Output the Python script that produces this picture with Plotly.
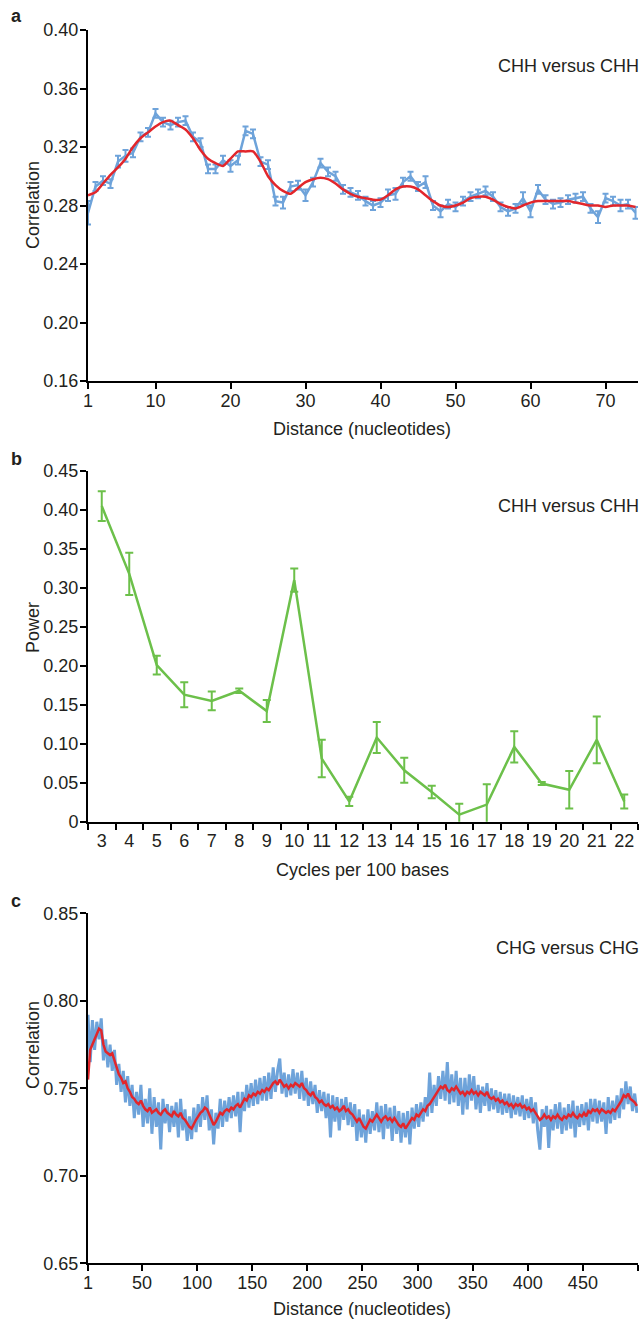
import plotly.graph_objects as go

# ---------------- Panel a data ----------------
a_dist = list(range(1, 75))
a_corr = [0.275, 0.293, 0.297, 0.295, 0.310, 0.314, 0.316, 0.327, 0.330, 0.343,
          0.337, 0.335, 0.337, 0.338, 0.327, 0.323, 0.305, 0.305, 0.311, 0.307,
          0.311, 0.331, 0.329, 0.310, 0.308, 0.283, 0.282, 0.293, 0.294, 0.287,
          0.296, 0.309, 0.303, 0.300, 0.291, 0.289, 0.287, 0.283, 0.280, 0.282,
          0.287, 0.288, 0.296, 0.300, 0.293, 0.296, 0.280, 0.276, 0.281, 0.279,
          0.283, 0.286, 0.288, 0.290, 0.286, 0.279, 0.276, 0.278, 0.285, 0.276,
          0.291, 0.284, 0.281, 0.282, 0.284, 0.285, 0.286, 0.278, 0.272, 0.285,
          0.283, 0.280, 0.281, 0.275]
a_err = [0.008, 0.003, 0.003, 0.003, 0.004, 0.004, 0.003, 0.003, 0.003, 0.003,
         0.003, 0.003, 0.003, 0.003, 0.003, 0.003, 0.003, 0.003, 0.003, 0.004,
         0.003, 0.003, 0.003, 0.003, 0.003, 0.003, 0.004, 0.003, 0.003, 0.004,
         0.003, 0.003, 0.003, 0.003, 0.003, 0.003, 0.003, 0.003, 0.003, 0.003,
         0.004, 0.004, 0.003, 0.003, 0.003, 0.004, 0.003, 0.004, 0.003, 0.003,
         0.003, 0.003, 0.003, 0.003, 0.003, 0.003, 0.003, 0.003, 0.004, 0.004,
         0.003, 0.003, 0.003, 0.003, 0.003, 0.003, 0.003, 0.003, 0.004, 0.003,
         0.003, 0.004, 0.003, 0.004]
a_smooth = [0.287, 0.289, 0.295, 0.301, 0.306, 0.312, 0.320, 0.326, 0.330, 0.334,
            0.337, 0.338, 0.335, 0.332, 0.326, 0.318, 0.312, 0.309, 0.307, 0.312,
            0.317, 0.317, 0.317, 0.310, 0.300, 0.294, 0.290, 0.288, 0.292, 0.296,
            0.298, 0.299, 0.298, 0.295, 0.291, 0.288, 0.286, 0.285, 0.284, 0.284,
            0.287, 0.291, 0.293, 0.293, 0.291, 0.287, 0.283, 0.280, 0.279, 0.280,
            0.282, 0.285, 0.286, 0.286, 0.284, 0.281, 0.279, 0.278, 0.280, 0.282,
            0.283, 0.283, 0.283, 0.283, 0.283, 0.282, 0.281, 0.280, 0.280, 0.279,
            0.280, 0.280, 0.280, 0.279]
a_xticks = [1, 10, 20, 30, 40, 50, 60, 70]
a_yticks = [0.16, 0.20, 0.24, 0.28, 0.32, 0.36, 0.40]

# ---------------- Panel b data ----------------
b_cycles = list(range(3, 23))
b_power = [0.405, 0.318, 0.201, 0.163, 0.155, 0.168, 0.142, 0.310, 0.081, 0.026,
           0.108, 0.066, 0.038, 0.009, 0.022, 0.096, 0.049, 0.041, 0.105, 0.026]
b_err = [0.019, 0.027, 0.012, 0.016, 0.012, 0.003, 0.014, 0.015, 0.024, 0.006,
         0.020, 0.016, 0.008, 0.014, 0.026, 0.020, 0.002, 0.024, 0.030, 0.009]
b_yticks = [0, 0.05, 0.10, 0.15, 0.20, 0.25, 0.30, 0.35, 0.40, 0.45]
b_yticktext = ["0", "0.05", "0.10", "0.15", "0.20", "0.25", "0.30", "0.35", "0.40", "0.45"]

# ---------------- Panel c data ----------------
c_dist = list(range(1, 500, 2))
c_corr = [
    0.792, 0.765, 0.789, 0.772, 0.788, 0.778, 0.790, 0.766, 0.778, 0.762,
    0.775, 0.760, 0.772, 0.752, 0.764, 0.748, 0.760, 0.742, 0.757, 0.740,
    0.752, 0.733, 0.748, 0.735, 0.752, 0.728, 0.744, 0.730, 0.750, 0.724,
    0.745, 0.728, 0.742, 0.715, 0.744, 0.730, 0.741, 0.725, 0.740, 0.728,
    0.742, 0.722, 0.744, 0.726, 0.738, 0.720, 0.734, 0.721, 0.739, 0.725,
    0.741, 0.728, 0.745, 0.732, 0.746, 0.726, 0.738, 0.718, 0.736, 0.727,
    0.744, 0.728, 0.743, 0.731, 0.745, 0.733, 0.746, 0.734, 0.748, 0.725,
    0.748, 0.737, 0.752, 0.739, 0.753, 0.740, 0.755, 0.741, 0.756, 0.743,
    0.757, 0.743, 0.759, 0.744, 0.762, 0.748, 0.760, 0.767, 0.747, 0.759,
    0.745, 0.758, 0.746, 0.761, 0.747, 0.759, 0.744, 0.760, 0.743, 0.756,
    0.740, 0.754, 0.741, 0.752, 0.736, 0.749, 0.737, 0.748, 0.733, 0.747,
    0.722, 0.746, 0.731, 0.745, 0.726, 0.744, 0.732, 0.745, 0.729, 0.742,
    0.728, 0.741, 0.720, 0.738, 0.722, 0.735, 0.719, 0.738, 0.724, 0.737,
    0.726, 0.742, 0.725, 0.740, 0.721, 0.741, 0.727, 0.739, 0.720, 0.740,
    0.724, 0.737, 0.719, 0.736, 0.722, 0.737, 0.718, 0.739, 0.727, 0.741,
    0.728, 0.742, 0.731, 0.745, 0.734, 0.759, 0.736, 0.752, 0.740, 0.757,
    0.744, 0.760, 0.743, 0.765, 0.741, 0.758, 0.742, 0.760, 0.740, 0.756,
    0.735, 0.756, 0.738, 0.758, 0.743, 0.757, 0.738, 0.752, 0.736, 0.751,
    0.740, 0.753, 0.737, 0.750, 0.738, 0.749, 0.736, 0.748, 0.735, 0.747,
    0.736, 0.747, 0.733, 0.746, 0.735, 0.745, 0.734, 0.746, 0.732, 0.744,
    0.733, 0.745, 0.730, 0.742, 0.726, 0.715, 0.738, 0.728, 0.740, 0.716,
    0.738, 0.726, 0.741, 0.727, 0.742, 0.724, 0.739, 0.726, 0.741, 0.727,
    0.743, 0.722, 0.740, 0.728, 0.741, 0.729, 0.742, 0.726, 0.744, 0.731,
    0.744, 0.730, 0.743, 0.731, 0.742, 0.724, 0.745, 0.730, 0.743, 0.732,
    0.746, 0.733, 0.750, 0.738, 0.754, 0.741, 0.751, 0.737, 0.747, 0.736,
]
c_smooth = [
    0.755, 0.772, 0.775, 0.778, 0.782, 0.784, 0.783, 0.775, 0.771, 0.770,
    0.769, 0.770, 0.766, 0.762, 0.758, 0.756, 0.753, 0.754, 0.750, 0.748,
    0.745, 0.744, 0.742, 0.741, 0.743, 0.740, 0.738, 0.737, 0.739, 0.736,
    0.737, 0.738, 0.736, 0.735, 0.737, 0.738, 0.736, 0.735, 0.734, 0.737,
    0.735, 0.734, 0.736, 0.733, 0.732, 0.730, 0.728, 0.727, 0.730, 0.732,
    0.734, 0.736, 0.737, 0.739, 0.738, 0.735, 0.731, 0.729, 0.731, 0.734,
    0.736, 0.735, 0.737, 0.738, 0.737, 0.739, 0.738, 0.740, 0.741, 0.739,
    0.742, 0.744, 0.743, 0.746, 0.745, 0.747, 0.746, 0.748, 0.747, 0.749,
    0.748, 0.750, 0.749, 0.751, 0.753, 0.754, 0.752, 0.755, 0.753, 0.751,
    0.752, 0.750, 0.752, 0.751, 0.753, 0.752, 0.751, 0.753, 0.750, 0.749,
    0.747, 0.746, 0.748, 0.745, 0.744, 0.742, 0.743, 0.741, 0.740, 0.741,
    0.739, 0.740, 0.738, 0.739, 0.737, 0.738, 0.740, 0.737, 0.738, 0.736,
    0.735, 0.733, 0.731, 0.733, 0.730, 0.728, 0.727, 0.730, 0.732, 0.731,
    0.733, 0.735, 0.733, 0.731, 0.733, 0.734, 0.732, 0.733, 0.731, 0.733,
    0.731, 0.729, 0.728, 0.730, 0.727, 0.729, 0.731, 0.733, 0.732, 0.735,
    0.734, 0.736, 0.738, 0.737, 0.740, 0.741, 0.743, 0.745, 0.747, 0.749,
    0.751, 0.750, 0.752, 0.749, 0.748, 0.750, 0.749, 0.751, 0.749, 0.747,
    0.748, 0.746, 0.748, 0.747, 0.749, 0.747, 0.748, 0.746, 0.748, 0.747,
    0.746, 0.748, 0.745, 0.744, 0.745, 0.743, 0.744, 0.742, 0.743, 0.741,
    0.742, 0.740, 0.741, 0.739, 0.741, 0.740, 0.741, 0.739, 0.740, 0.738,
    0.739, 0.737, 0.738, 0.736, 0.734, 0.732, 0.733, 0.735, 0.733, 0.734,
    0.732, 0.734, 0.733, 0.735, 0.733, 0.732, 0.734, 0.733, 0.735, 0.734,
    0.736, 0.734, 0.733, 0.735, 0.734, 0.736, 0.734, 0.737, 0.736, 0.738,
    0.737, 0.738, 0.736, 0.738, 0.737, 0.736, 0.737, 0.736, 0.738, 0.737,
    0.739, 0.741, 0.743, 0.746, 0.745, 0.747, 0.744, 0.743, 0.742, 0.740,
]
c_xticks = [1, 50, 100, 150, 200, 250, 300, 350, 400, 450, 500]
c_xticktext = ["1", "50", "100", "150", "200", "250", "300", "350", "400", "450", ""]
c_yticks = [0.65, 0.70, 0.75, 0.80, 0.85]

# ---------------- styling ----------------
W, H = 643, 1320
BLUE = "#6ea3da"
RED = "#e2262b"
GREEN = "#6cc04a"
FONT = "Liberation Sans, Arial, Helvetica, sans-serif"
TXT = "#231f20"


def px_x(x):
    return x / W


def px_y(y):
    return 1 - y / H


fig = go.Figure()

# Panel a
fig.add_trace(go.Scatter(
    x=a_dist, y=a_corr, mode="lines", xaxis="x", yaxis="y",
    line=dict(color=BLUE, width=2.5),
    error_y=dict(type="data", array=a_err, color=BLUE, thickness=2, width=3),
))
fig.add_trace(go.Scatter(
    x=a_dist, y=a_smooth, mode="lines", xaxis="x", yaxis="y",
    line=dict(color=RED, width=2.5, shape="spline", smoothing=0.6),
))

# Panel b
fig.add_trace(go.Scatter(
    x=b_cycles, y=b_power, mode="lines", xaxis="x2", yaxis="y2",
    line=dict(color=GREEN, width=2.5),
    error_y=dict(type="data", array=b_err, color=GREEN, thickness=2, width=4),
))

# Panel c
fig.add_trace(go.Scatter(
    x=c_dist, y=c_corr, mode="lines", xaxis="x3", yaxis="y3",
    line=dict(color=BLUE, width=3),
))
fig.add_trace(go.Scatter(
    x=c_dist, y=c_smooth, mode="lines", xaxis="x3", yaxis="y3",
    line=dict(color=RED, width=2.5),
))

axis_common = dict(
    showline=True, linewidth=2, linecolor="black",
    ticks="outside", ticklen=6, tickwidth=2, tickcolor="black",
    showgrid=False, zeroline=False, automargin=False,
    tickfont=dict(family=FONT, size=18, color=TXT),
)

xdom = [px_x(88), px_x(638)]

fig.update_layout(
    width=W, height=H, autosize=False,
    margin=dict(l=0, r=0, t=0, b=0, pad=0, autoexpand=False),
    paper_bgcolor="white", plot_bgcolor="white",
    showlegend=False,
    font=dict(family=FONT, size=18, color=TXT),
    xaxis=dict(domain=xdom, anchor="y", range=[1, 74.33],
               tickmode="array", tickvals=a_xticks, **axis_common),
    yaxis=dict(domain=[px_y(381), px_y(30)], anchor="x", range=[0.16, 0.40],
               tickmode="array", tickvals=a_yticks,
               ticktext=[f"{v:.2f}" for v in a_yticks], **axis_common),
    xaxis2=dict(domain=xdom, anchor="y2", range=[2.5, 22.5],
                tickmode="array", tickvals=b_cycles,
                ticktext=[str(c) for c in b_cycles],
                **{**axis_common, "tickcolor": "rgba(0,0,0,0)"},
                minor=dict(tickmode="linear", tick0=2.5, dtick=1, ticks="outside",
                           ticklen=6, tickwidth=2, tickcolor="black", showgrid=False)),
    yaxis2=dict(domain=[px_y(821.7), px_y(471)], anchor="x2", range=[0, 0.45],
                tickmode="array", tickvals=b_yticks, ticktext=b_yticktext,
                **axis_common),
    xaxis3=dict(domain=xdom, anchor="y3", range=[1, 500],
                tickmode="array", tickvals=c_xticks, ticktext=c_xticktext,
                **axis_common),
    yaxis3=dict(domain=[px_y(1263.3), px_y(913.3)], anchor="x3", range=[0.65, 0.85],
                tickmode="array", tickvals=c_yticks,
                ticktext=[f"{v:.2f}" for v in c_yticks], **axis_common),
)

# pull tick labels slightly closer to the axes (as in the reference)
try:
    fig.update_xaxes(ticklabelstandoff=-4)
    fig.update_yaxes(ticklabelstandoff=-2)
except Exception:
    pass

annots = [
    # panel letters
    dict(text="<b>a</b>", x=px_x(9), y=px_y(16), xanchor="left", yanchor="middle", size=18),
    dict(text="<b>b</b>", x=px_x(9), y=px_y(459), xanchor="left", yanchor="middle", size=18),
    dict(text="<b>c</b>", x=px_x(9), y=px_y(901), xanchor="left", yanchor="middle", size=18),
    # in-plot labels
    dict(text="CHH versus CHH", x=px_x(641), y=px_y(66), xanchor="right", yanchor="middle", size=18),
    dict(text="CHH versus CHH", x=px_x(641), y=px_y(506), xanchor="right", yanchor="middle", size=18),
    dict(text="CHG versus CHG", x=px_x(641), y=px_y(948), xanchor="right", yanchor="middle", size=18),
    # axis titles
    dict(text="Distance (nucleotides)", x=px_x(362), y=px_y(429), xanchor="center", yanchor="middle", size=18),
    dict(text="Cycles per 100 bases", x=px_x(362), y=px_y(870), xanchor="center", yanchor="middle", size=18),
    dict(text="Distance (nucleotides)", x=px_x(362), y=px_y(1309), xanchor="center", yanchor="middle", size=18),
    dict(text="Correlation", x=px_x(33), y=px_y(205), xanchor="center", yanchor="middle", size=18, angle=-90),
    dict(text="Power", x=px_x(33), y=px_y(628), xanchor="center", yanchor="middle", size=18, angle=-90),
    dict(text="Correlation", x=px_x(33), y=px_y(1045), xanchor="center", yanchor="middle", size=18, angle=-90),
]
for a in annots:
    fig.add_annotation(
        text=a["text"], x=a["x"], y=a["y"], xref="paper", yref="paper",
        xanchor=a["xanchor"], yanchor=a["yanchor"], showarrow=False,
        textangle=a.get("angle", 0),
        font=dict(family=FONT, size=a["size"], color=TXT),
    )

fig.write_html(
    "out.html",
    config={"displayModeBar": False},
    post_script="document.body.style.margin='0';document.body.style.overflow='hidden';",
)
